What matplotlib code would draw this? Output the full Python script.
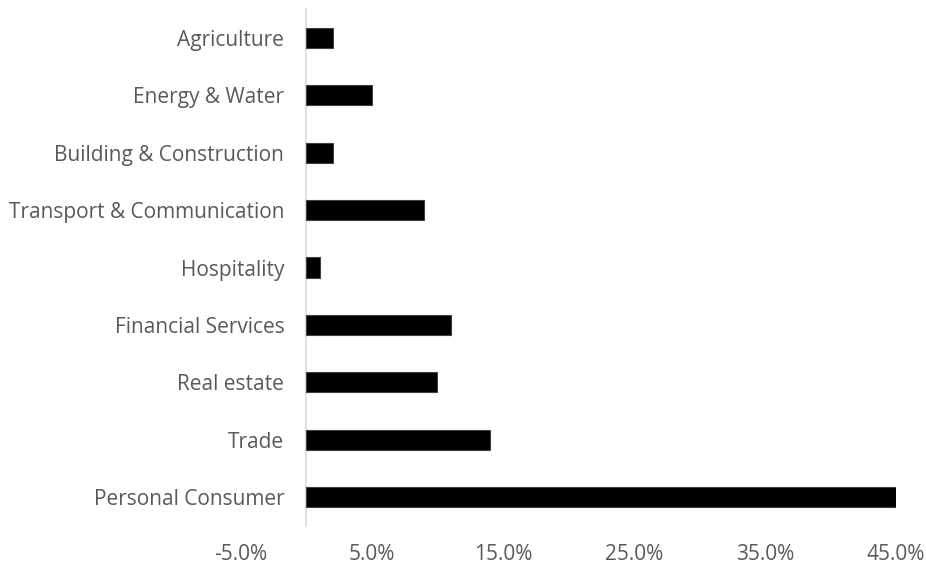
import matplotlib
matplotlib.use("Agg")
import matplotlib.pyplot as plt
from matplotlib.ticker import FuncFormatter, FixedLocator

categories = ["Agriculture", "Energy & Water", "Building & Construction",
              "Transport & Communication", "Hospitality", "Financial Services",
              "Real estate", "Trade", "Personal Consumer"]
values = [2.0, 5.0, 2.0, 9.0, 1.0, 11.0, 10.0, 14.0, 45.0]
xticks = [-5, 5, 15, 25, 35, 45]

plt.rcParams['font.family'] = ['Open Sans', 'DejaVu Sans']

fig = plt.figure(figsize=(9.26, 5.68), dpi=100)
ax = fig.add_axes([241/926, 1 - 525.7/568, (896 - 241)/926, (525.7 - 9.3)/568])

ypos = list(range(len(categories)))
ax.barh(ypos, values, height=0.35, color="black", edgecolor="#404040", linewidth=0.8, zorder=3)
ax.set_ylim(len(categories) - 0.5, -0.5)
ax.set_xlim(-5, 45)

ax.set_yticks(ypos)
ax.set_yticklabels(categories)
ax.xaxis.set_major_locator(FixedLocator(xticks))
ax.xaxis.set_major_formatter(FuncFormatter(lambda v, p: f"{v:.1f}%"))

for s in ["top", "right", "bottom"]:
    ax.spines[s].set_visible(False)
ax.spines["left"].set_position(("data", 0))
ax.spines["left"].set_color("#d9d9d9")
ax.spines["left"].set_linewidth(1.2)

ax.tick_params(axis="y", length=0, pad=16, labelsize=15, labelcolor="#595959")
ax.tick_params(axis="x", length=0, pad=13, labelsize=15, labelcolor="#595959")

fig.savefig("out.png", dpi=100)
